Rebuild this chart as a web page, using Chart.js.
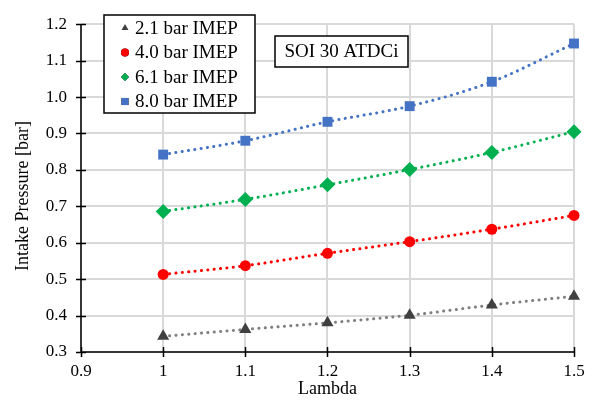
<!DOCTYPE html>
<html>
<head>
<meta charset="utf-8">
<script src="https://cdn.jsdelivr.net/npm/chart.js@4.4.1/dist/chart.umd.min.js"></script>
<style>
	html, body { margin: 0; padding: 0; background: #fff; }
	#wrap { width: 598px; height: 400px; }
</style>
</head>
<body>
<div id="wrap"><canvas id="chart" width="598" height="400"></canvas></div>
<script>
	'use strict';

	const lambdaValues = [1.0, 1.1, 1.2, 1.3, 1.4, 1.5];
	const imep21 = [0.343, 0.362, 0.380, 0.401, 0.429, 0.453];
	const imep40 = [0.513, 0.537, 0.571, 0.603, 0.637, 0.675];
	const imep61 = [0.686, 0.719, 0.759, 0.801, 0.848, 0.905];
	const imep80 = [0.842, 0.880, 0.932, 0.975, 1.042, 1.147];
	const seriesLabels = ['2.1 bar IMEP', '4.0 bar IMEP', '6.1 bar IMEP', '8.0 bar IMEP'];
	const xTicks = [0.9, 1, 1.1, 1.2, 1.3, 1.4, 1.5];
	const yTicks = [0.3, 0.4, 0.5, 0.6, 0.7, 0.8, 0.9, 1.0, 1.1, 1.2];

	const serif = '"Liberation Serif", "Times New Roman", serif';

	function toPoints(values) {
		return values.map(function (v, i) {
			return { x: lambdaValues[i], y: v };
		});
	}

	function makeSeries(label, values, style) {
		return {
			label: label,
			data: toPoints(values),
			showLine: true,
			clip: false,
			borderColor: style.line,
			borderWidth: 3,
			borderDash: [0.1, 6.3],
			borderCapStyle: 'round',
			cubicInterpolationMode: 'monotone',
			pointStyle: style.shape,
			pointRadius: style.radius,
			pointBackgroundColor: style.fill,
			pointBorderColor: style.fill,
			pointBorderWidth: 0,
			legendRadius: style.legendRadius
		};
	}

	const datasets = [
		makeSeries(seriesLabels[0], imep21, { line: '#7f7f7f', fill: '#404040', shape: 'triangle', radius: 7, legendRadius: 4 }),
		makeSeries(seriesLabels[1], imep40, { line: '#ff0000', fill: '#ff0000', shape: 'circle', radius: 5.5, legendRadius: 4 }),
		makeSeries(seriesLabels[2], imep61, { line: '#00b050', fill: '#00b050', shape: 'rectRot', radius: 7.5, legendRadius: 4 }),
		makeSeries(seriesLabels[3], imep80, { line: '#4472c4', fill: '#4472c4', shape: 'rect', radius: 7, legendRadius: 5 })
	];

	// ticks crossing the axes, legend box, note box and axis titles
	const decorPlugin = {
		id: 'decor',
		beforeDatasetsDraw: function (chart) {
			const ctx = chart.ctx;
			const area = chart.chartArea;
			const xs = chart.scales.x;
			const ys = chart.scales.y;

			ctx.save();
			ctx.strokeStyle = '#000';
			ctx.lineWidth = 1.5;
			ctx.beginPath();
			ctx.moveTo(area.left, area.top);
			ctx.lineTo(area.left, area.bottom);
			ctx.lineTo(area.right, area.bottom);
			yTicks.forEach(function (t) {
				const py = Math.round(ys.getPixelForValue(t)) + 0.5;
				ctx.moveTo(area.left - 5, py);
				ctx.lineTo(area.left + 5, py);
			});
			xTicks.forEach(function (t) {
				const px = Math.round(xs.getPixelForValue(t)) + 0.5;
				ctx.moveTo(px, area.bottom - 5);
				ctx.lineTo(px, area.bottom + 5);
			});
			ctx.stroke();
			ctx.restore();
		},
		afterDatasetsDraw: function (chart) {
			const ctx = chart.ctx;
			const area = chart.chartArea;

			ctx.save();
			ctx.strokeStyle = '#000';

			// legend
			const lx = 104, ly = 15, lw = 151, lh = 98;
			ctx.fillStyle = '#fff';
			ctx.fillRect(lx, ly, lw, lh);
			ctx.lineWidth = 1.5;
			ctx.strokeRect(lx, ly, lw, lh);
			ctx.font = '19px ' + serif;
			ctx.textBaseline = 'middle';
			ctx.textAlign = 'left';
			chart.data.datasets.forEach(function (ds, i) {
				const cy = ly + 13 + i * 24.5;
				Chart.helpers.drawPoint(ctx, {
					pointStyle: ds.pointStyle,
					radius: ds.legendRadius,
					rotation: 0,
					borderWidth: 0
				}, 125, cy);
				ctx.fillStyle = ds.pointBackgroundColor;
				ctx.fill();
				ctx.fillStyle = '#000';
				ctx.fillText(ds.label, 135, cy + 1);
			});

			// note box
			ctx.fillStyle = '#fff';
			ctx.fillRect(275, 36, 133, 31);
			ctx.strokeRect(275, 36, 133, 31);
			ctx.fillStyle = '#000';
			ctx.textAlign = 'center';
			ctx.fillText('SOI 30 ATDCi', 341.5, 52);

			// axis titles
			ctx.font = '18px ' + serif;
			ctx.fillText('Lambda', (area.left + area.right) / 2, 389);
			ctx.translate(23, 196);
			ctx.rotate(-Math.PI / 2);
			ctx.fillText('Intake Pressure [bar]', 0, 0);
			ctx.restore();
		}
	};

	new Chart(document.getElementById('chart'), {
		type: 'scatter',
		data: { datasets: datasets },
		plugins: [decorPlugin],
		options: {
			responsive: false,
			animation: false,
			events: [],
			layout: { padding: { top: 15, right: 24, left: 0, bottom: 0 } },
			plugins: {
				legend: { display: false },
				tooltip: { enabled: false }
			},
			scales: {
				x: {
					type: 'linear',
					min: 0.9,
					max: 1.5,
					afterBuildTicks: function (scale) {
						scale.ticks = xTicks.map(function (v) { return { value: v }; });
					},
					afterFit: function (scale) { scale.height = 48; },
					grid: { color: '#d9d9d9', lineWidth: 2, drawTicks: false },
					border: { display: false },
					ticks: {
						padding: 9,
						color: '#000',
						font: { family: serif, size: 17 },
						callback: function (v) { return String(Math.round(v * 10) / 10); }
					}
				},
				y: {
					type: 'linear',
					min: 0.3,
					max: 1.2,
					afterBuildTicks: function (scale) {
						scale.ticks = yTicks.map(function (v) { return { value: v }; });
					},
					afterFit: function (scale) { scale.width = 81; },
					grid: { color: '#d9d9d9', lineWidth: 2, drawTicks: false },
					border: { display: false },
					ticks: {
						padding: 14,
						color: '#000',
						font: { family: serif, size: 17 },
						callback: function (v) { return (Math.round(v * 10) / 10).toFixed(1); }
					}
				}
			}
		}
	});
</script>
</body>
</html>
